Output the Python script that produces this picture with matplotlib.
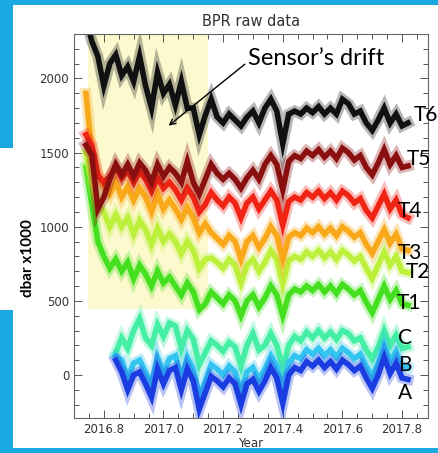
import numpy as np
import matplotlib
matplotlib.use('Agg')
import matplotlib.pyplot as plt
from matplotlib.patches import Rectangle

# Muestras cada 0.02 anios
years_t = np.round(np.arange(2016.74, 2017.8201, 0.02), 2)
years_abc = years_t[5:]

# Sensores T (dbar x1000)
t6 = [2400, 2250, 2150, 1950, 2100, 2160, 2020, 2080, 1980, 2150, 1950, 1800, 2040, 1900,
      1960, 1820, 1980, 1800, 1800, 1620, 1750, 1860, 1740, 1700, 1760, 1720, 1680, 1740,
      1780, 1700, 1800, 1860, 1780, 1560, 1760, 1780, 1760, 1800, 1770, 1810, 1760, 1800,
      1760, 1860, 1830, 1760, 1780, 1700, 1650, 1720, 1800, 1700, 1760, 1680, 1700]
t5 = [1550, 1480, 1120, 1200, 1320, 1420, 1350, 1420, 1340, 1430, 1380, 1300, 1420, 1340,
      1400, 1360, 1300, 1440, 1300, 1220, 1320, 1420, 1360, 1320, 1360, 1320, 1260, 1330,
      1380, 1320, 1420, 1480, 1420, 1250, 1440, 1480, 1460, 1510, 1480, 1520, 1470, 1510,
      1460, 1530, 1500, 1450, 1480, 1400, 1350, 1430, 1520, 1420, 1480, 1400, 1410]
t4 = [1620, 1550, 1350, 1300, 1340, 1400, 1330, 1380, 1300, 1370, 1320, 1240, 1330, 1260,
      1300, 1250, 1180, 1260, 1200, 1100, 1150, 1230, 1180, 1140, 1200, 1160, 1060, 1160,
      1200, 1120, 1180, 1240, 1180, 1010, 1170, 1200, 1180, 1230, 1200, 1240, 1190, 1230,
      1180, 1240, 1210, 1160, 1190, 1110, 1060, 1140, 1220, 1120, 1180, 1080, 1060]
t3 = [1900, 1500, 1350, 1280, 1220, 1300, 1200, 1270, 1180, 1260, 1200, 1100, 1220, 1120,
      1180, 1120, 1050, 1130, 1060, 960, 1020, 960, 920, 880, 940, 900, 780, 900,
      940, 860, 920, 1000, 940, 780, 930, 960, 940, 990, 960, 1000, 950, 990,
      940, 1000, 970, 930, 960, 880, 820, 900, 980, 890, 950, 850, 840]
t2 = [1500, 1300, 1150, 1100, 1000, 1080, 1000, 1060, 950, 1040, 980, 880, 990, 900,
      950, 900, 820, 900, 840, 720, 780, 790, 760, 720, 780, 740, 620, 740,
      780, 700, 760, 840, 780, 610, 770, 800, 780, 830, 800, 840, 790, 830,
      780, 840, 810, 770, 800, 720, 650, 740, 830, 740, 800, 700, 690]
t1 = [1400, 1150, 900, 800, 720, 780, 700, 760, 650, 740, 680, 600, 700, 620,
      660, 600, 540, 620, 560, 440, 480, 560, 520, 480, 540, 500, 400, 500,
      540, 460, 520, 600, 540, 400, 540, 580, 560, 600, 570, 610, 560, 600,
      550, 610, 580, 540, 570, 490, 420, 510, 600, 510, 570, 480, 470]

# Sensores A, B, C (empiezan en 2016.84)
c = [150, 250, 180, 300, 380, 250, 200, 340, 260, 350, 330, 180, 300, 240, 70, 150,
     230, 200, 160, 220, 190, 60, 200, 280, 170, 200, 280, 200, 50, 200, 260, 230,
     290, 250, 300, 250, 290, 240, 300, 280, 230, 250, 170, 110, 190, 300, 200, 270,
     180, 190]
b = [130, 100, -20, 80, 100, 20, -60, 120, 20, 110, 130, -20, 120, 40, -150, -40,
     70, 40, 0, 60, 20, -110, 20, 50, -30, 40, 130, 60, -110, 80, 130, 110,
     170, 140, 180, 130, 170, 120, 180, 150, 110, 140, 60, -10, 80, 200, 90, 160,
     60, 50]
a = [100, 20, -100, 0, 20, -60, -150, 40, -60, 30, 50, -100, 40, -40, -230, -120,
     -10, -40, -80, -20, -60, -200, -60, -30, -110, -40, 50, -20, -190, 0, 50, 30,
     90, 60, 100, 50, 90, 40, 100, 70, 30, 60, -20, -90, 0, 120, 10, 80,
     -20, -30]

# Etiquetas de cada serie: (texto, anio, valor)
labels = ['T6', 'T5', 'T4', 'T3', 'T2', 'T1', 'C', 'B', 'A']
label_x = [2017.84, 2017.817, 2017.787, 2017.787, 2017.813, 2017.783, 2017.787, 2017.787, 2017.787]
label_y = [1751, 1460, 1109, 825, 696, 487, 250, 68, -122]

# Zona de deriva del sensor
drift_start, drift_end, drift_bottom = 2016.747, 2017.15, 446

fig = plt.figure(figsize=(4.38, 4.53), dpi=100, facecolor='#1aa8e0')
# panel blanco y caja de la etiqueta del eje y
fig.patches.append(Rectangle((13/438, 5/453), 1, 443/453, transform=fig.transFigure,
                             facecolor='white', edgecolor='none', zorder=-5))
fig.patches.append(Rectangle((0, 143/453), 0.1, 162/453, transform=fig.transFigure,
                             facecolor='white', edgecolor='none', zorder=-5))

ax = fig.add_axes([74/438, 35/453, 354/438, 384/453])
ax.set_zorder(2)
ax.set_facecolor('none')

ax.add_patch(Rectangle((drift_start, drift_bottom), drift_end - drift_start, 3000,
                       facecolor='#fcf9cf', edgecolor='none', zorder=0))

# cada serie: banda difusa + linea central
series = [(years_t, t1, '#44e020'), (years_t, t2, '#bcf03a'), (years_t, t3, '#f8a818'),
          (years_t, t4, '#f02414'), (years_t, t5, '#8a1010'), (years_t, t6, '#111111'),
          (years_abc, c, '#44eea4'), (years_abc, b, '#34c4f0'), (years_abc, a, '#1a3ce0')]
for xs, ys, col in series:
    ax.plot(xs, ys, color=col, lw=8, alpha=0.3, solid_joinstyle='miter')
    ax.plot(xs, ys, color=col, lw=4, solid_joinstyle='miter')

for txt, lx, ly in zip(labels, label_x, label_y):
    ax.text(lx, ly, txt, fontsize=15, family='Lato', ha='left', va='center', clip_on=False)

ax.annotate('', xy=(2017.01, 1670), xytext=(2017.28, 2108),
            arrowprops=dict(arrowstyle='->', color='black', lw=1))
ax.text(2017.283, 2136, 'Sensor\u2019s drift', fontsize=17, family='Lato', ha='left', va='center')

ax.set_xlim(2016.7, 2017.887)
ax.set_ylim(-290, 2300)
ax.set_xticks([2016.8, 2017.0, 2017.2, 2017.4, 2017.6, 2017.8])
ax.set_xticklabels(['2016.8', '2017.0', '2017.2', '2017.4', '2017.6', '2017.8'])
ax.set_xticks(np.arange(2016.75, 2017.88, 0.05), minor=True)
ax.set_yticks([0, 500, 1000, 1500, 2000])
ax.set_yticks(np.arange(-200, 2301, 100), minor=True)
ax.tick_params(which='both', direction='in', top=True, right=True, colors='#555555',
               labelsize=8.5, labelcolor='#333333')
ax.tick_params(which='major', length=6, width=0.7)
ax.tick_params(which='minor', length=3.5, width=0.7)
for s in ax.spines.values():
    s.set_color('#666666')
    s.set_linewidth(0.8)

ax.set_title('BPR raw data', fontsize=10.5, color='#333333', pad=6)
ax.set_xlabel('Year', fontsize=8.5, color='#333333', labelpad=1)
fig.text(28/438, 1 - 258/453, 'dbar x1000', rotation=90, fontsize=11, fontweight='bold',
         family='Lato', ha='center', va='center')

plt.savefig('out.png', dpi=100, facecolor=fig.get_facecolor())
